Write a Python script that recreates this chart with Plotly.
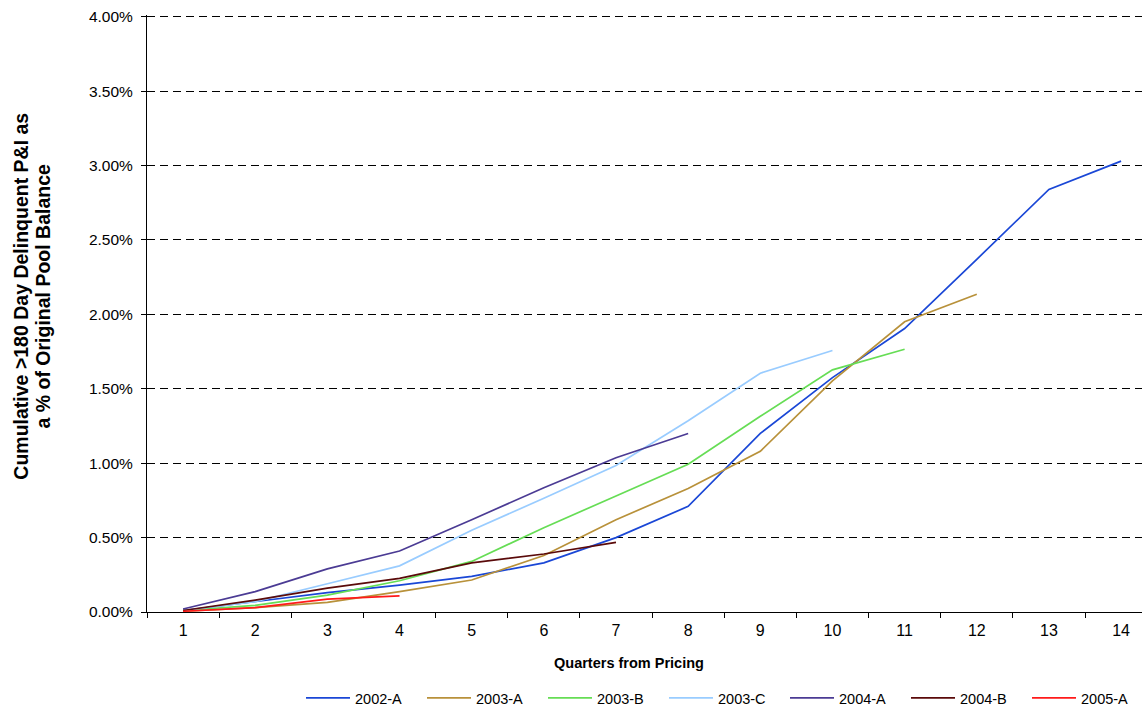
import plotly.graph_objects as go

quarters = [str(i) for i in range(1, 15)]

s2002A = [0.01, 0.07, 0.13, 0.18, 0.24, 0.33, 0.50, 0.71, 1.20, 1.575, 1.905, 2.37, 2.84, 3.03]
s2003A = [0.005, 0.03, 0.065, 0.137, 0.215, 0.38, 0.62, 0.83, 1.08, 1.553, 1.95, 2.135]
s2003B = [0.01, 0.045, 0.114, 0.21, 0.34, 0.566, 0.78, 0.993, 1.315, 1.627, 1.766]
s2003C = [0.01, 0.07, 0.19, 0.31, 0.55, 0.764, 0.984, 1.285, 1.605, 1.757]
s2004A = [0.02, 0.137, 0.29, 0.41, 0.62, 0.835, 1.037, 1.20]
s2004B = [0.01, 0.08, 0.16, 0.226, 0.33, 0.39, 0.468]
s2005A = [0.005, 0.03, 0.087, 0.108]

series_names = ["2002-A", "2003-A", "2003-B", "2003-C", "2004-A", "2004-B", "2005-A"]
series_values = [s2002A, s2003A, s2003B, s2003C, s2004A, s2004B, s2005A]
colors = ["#1A47D6", "#B8913A", "#66DD55", "#99CCFF", "#4B3B94", "#5A0A0A", "#FF1A1A"]

yticks = [0, 0.5, 1.0, 1.5, 2.0, 2.5, 3.0, 3.5, 4.0]
ytick_text = ["0.00%", "0.50%", "1.00%", "1.50%", "2.00%", "2.50%", "3.00%", "3.50%", "4.00%"]

FONT = "Liberation Sans, Arial, sans-serif"
YMAX = 4.012
L, B = 147, 102
PX_PER_UNIT = 595 / 4.0
T = 17 - (YMAX - 4.0) * PX_PER_UNIT
PW, PH = 1148 - L, 714 - T - B

fig = go.Figure()
for name, vals, col in zip(series_names, series_values, colors):
    fig.add_trace(go.Scatter(
        x=quarters[:len(vals)], y=vals, name=name, mode="lines",
        line=dict(color=col, width=1.7),
    ))

fig.update_layout(
    width=1148, height=714,
    margin=dict(l=L, r=0, t=T, b=B),
    paper_bgcolor="white", plot_bgcolor="white",
    font=dict(family=FONT, size=14, color="black"),
    showlegend=True,
    legend=dict(orientation="h", x=(302 - L) / PW, xanchor="left",
                y=(612 - 698) / PH, yanchor="middle",
                font=dict(size=14.5, family=FONT), itemwidth=44,
                entrywidth=62, entrywidthmode="pixels",
                bgcolor="rgba(0,0,0,0)"),
    xaxis=dict(
        type="category", categoryorder="array", categoryarray=quarters,
        range=[-0.5, 13.29], tickson="boundaries", ticks="outside", ticklen=5,
        tickcolor="black", showline=True, linecolor="black", linewidth=1,
        showgrid=False, zeroline=False, tickfont=dict(size=16),
        ticklabelstandoff=4,
    ),
    yaxis=dict(
        range=[0, YMAX], tickvals=yticks, ticktext=ytick_text,
        ticks="outside", ticklen=5, tickcolor="black", showline=True,
        linecolor="black", linewidth=1, showgrid=True, gridcolor="black",
        gridwidth=1, griddash="8px,5px", zeroline=False, tickfont=dict(size=15.5),
        ticklabelstandoff=5,
    ),
    annotations=[
        dict(text="<b>Quarters from Pricing</b>", xref="paper", yref="paper",
             x=(632 - L) / PW, y=(612 - 663) / PH, xanchor="center", yanchor="middle",
             showarrow=False, font=dict(size=14.5, family=FONT)),
        dict(text="<b>Cumulative >180 Day Delinquent P&I as</b>",
             xref="paper", yref="paper", x=(20 - L) / PW, y=(612 - 296) / PH,
             xanchor="center", yanchor="middle", textangle=-90, showarrow=False,
             font=dict(size=19.5, family=FONT)),
        dict(text="<b>a % of Original Pool Balance</b>",
             xref="paper", yref="paper", x=(42 - L) / PW, y=(612 - 296) / PH,
             xanchor="center", yanchor="middle", textangle=-90, showarrow=False,
             font=dict(size=19.5, family=FONT)),
    ],
)

fig.write_html("out.html", config={"displayModeBar": False},
               post_script="document.body.style.margin='0';")
